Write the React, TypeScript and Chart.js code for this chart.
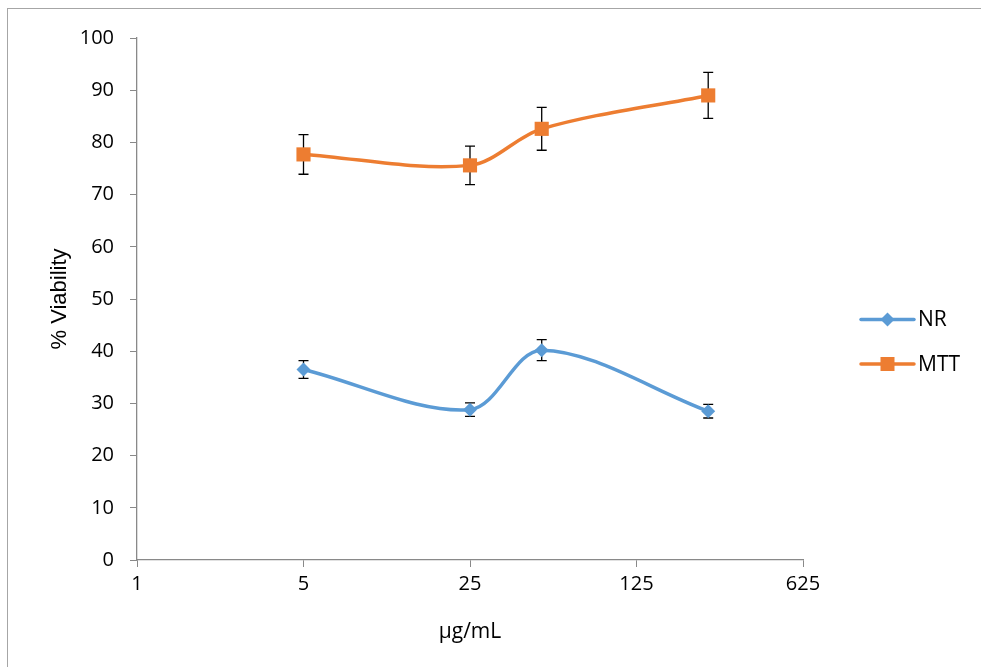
import React, { useEffect, useRef } from "react";
import { Chart, registerables } from "chart.js";

Chart.register(...registerables);

const concentrations = [5, 25, 50, 250];
const xTicks = [1, 5, 25, 125, 625];
const nrValues = [36.5, 28.8, 40.2, 28.5];
const nrErrors = [1.7, 1.3, 2.0, 1.3];
const mttValues = [77.7, 75.6, 82.6, 89.0];
const mttErrors = [3.8, 3.7, 4.1, 4.4];
const seriesNames = ["NR", "MTT"];
const xTitle = "µg/mL";
const yTitle = "% Viability";

const AXIS_COLOR = "#898989";
const NR_COLOR = "#5B9BD5";
const MTT_COLOR = "#ED7D31";
const TICK_FONT = "'Open Sans', 'Noto Sans', sans-serif";

const errorBarPlugin = {
  id: "errorBars",
  beforeDatasetsDraw(chart: any) {
    const ctx = chart.ctx;
    const xs = chart.scales.x;
    const ys = chart.scales.y;
    ctx.save();
    ctx.strokeStyle = "#000";
    ctx.lineWidth = 1.3;
    chart.data.datasets.forEach((ds: any) => {
      const errs: number[] = ds.errors || [];
      ds.data.forEach((p: any, i: number) => {
        const e = errs[i];
        if (e == null) return;
        const x = xs.getPixelForValue(p.x);
        const y1 = ys.getPixelForValue(p.y - e);
        const y2 = ys.getPixelForValue(p.y + e);
        ctx.beginPath();
        ctx.moveTo(x, y1);
        ctx.lineTo(x, y2);
        ctx.moveTo(x - 5, y1);
        ctx.lineTo(x + 5, y1);
        ctx.moveTo(x - 5, y2);
        ctx.lineTo(x + 5, y2);
        ctx.stroke();
      });
    });
    ctx.restore();
  },
};

const legendPlugin = {
  id: "customLegend",
  afterDraw(chart: any) {
    const ctx = chart.ctx;
    const rows = [319.5, 364];
    ctx.save();
    chart.data.datasets.forEach((ds: any, i: number) => {
      const y = rows[i];
      const x1 = 861;
      const x2 = 914;
      ctx.strokeStyle = ds.borderColor;
      ctx.lineWidth = ds.borderWidth;
      ctx.lineCap = "round";
      ctx.beginPath();
      ctx.moveTo(x1, y);
      ctx.lineTo(x2, y);
      ctx.stroke();
      ctx.fillStyle = ds.backgroundColor;
      const cx = (x1 + x2) / 2;
      ctx.beginPath();
      if (ds.pointStyle === "rect") {
        ctx.rect(cx - 7, y - 7, 14, 14);
      } else {
        ctx.moveTo(cx, y - 7);
        ctx.lineTo(cx + 7, y);
        ctx.lineTo(cx, y + 7);
        ctx.lineTo(cx - 7, y);
        ctx.closePath();
      }
      ctx.fill();
      ctx.fillStyle = "#000";
      ctx.font = `21px ${TICK_FONT}`;
      ctx.textBaseline = "middle";
      ctx.textAlign = "left";
      ctx.fillText(ds.label, 918, y + 1);
    });
    ctx.restore();
  },
};

export default function App() {
  const ref = useRef<HTMLCanvasElement | null>(null);

  useEffect(() => {
    if (!ref.current) return;
    const chart = new Chart(ref.current, {
      type: "line",
      data: {
        datasets: [
          {
            label: seriesNames[0],
            data: concentrations.map((c, i) => ({ x: c, y: nrValues[i] })),
            errors: nrErrors,
            borderColor: NR_COLOR,
            backgroundColor: NR_COLOR,
            borderWidth: 3.5,
            pointStyle: "rectRot",
            pointRadius: 7,
            pointBorderWidth: 0,
            tension: 0.33,
          } as any,
          {
            label: seriesNames[1],
            data: concentrations.map((c, i) => ({ x: c, y: mttValues[i] })),
            errors: mttErrors,
            borderColor: MTT_COLOR,
            backgroundColor: MTT_COLOR,
            borderWidth: 3.5,
            pointStyle: "rect",
            pointRadius: 10,
            pointBorderWidth: 0,
            tension: 0.33,
          } as any,
        ],
      },
      options: {
        animation: false,
        responsive: false,
        maintainAspectRatio: false,
        layout: { padding: { top: 38, right: 178, left: 0, bottom: 0 } },
        plugins: {
          legend: { display: false },
          tooltip: { enabled: false },
        },
        scales: {
          x: {
            type: "logarithmic",
            min: 1,
            max: 625,
            afterBuildTicks(scale: any) {
              scale.ticks = xTicks.map((v) => ({ value: v }));
            },
            afterFit(scale: any) {
              scale.height = 107;
            },
            grid: {
              drawOnChartArea: false,
              drawTicks: true,
              tickLength: 7,
              color: AXIS_COLOR,
            },
            border: { display: true, color: AXIS_COLOR, width: 1.3 },
            ticks: {
              autoSkip: false,
              maxRotation: 0,
              padding: 5,
              color: "#000",
              font: { family: TICK_FONT, size: 20 },
              callback: (v: any) => String(v),
            },
            title: {
              display: true,
              text: xTitle,
              color: "#000",
              font: { family: TICK_FONT, size: 21 },
              padding: { top: 0, bottom: 22 },
            },
          },
          y: {
            type: "linear",
            min: 0,
            max: 100,
            afterFit(scale: any) {
              scale.width = 137;
            },
            grid: {
              drawOnChartArea: false,
              drawTicks: true,
              tickLength: 7,
              color: AXIS_COLOR,
            },
            border: { display: true, color: AXIS_COLOR, width: 1.3 },
            ticks: {
              stepSize: 10,
              padding: 16,
              color: "#000",
              font: { family: TICK_FONT, size: 20 },
            },
            title: {
              display: true,
              text: yTitle,
              color: "#000",
              font: { family: "'Liberation Sans', Arial, sans-serif", size: 22 },
              padding: { top: 47, bottom: 0 },
            },
          },
        },
      },
      plugins: [errorBarPlugin, legendPlugin],
    });
    return () => chart.destroy();
  }, []);

  return (
    <div style={{ position: "fixed", left: 0, top: 0, width: 981, height: 667, background: "#fff" }}>
      <div
        style={{
          position: "absolute",
          left: 7,
          top: 8,
          width: 1000,
          height: 700,
          borderTop: "1.5px solid #a6a6a6",
          borderLeft: "1.5px solid #a6a6a6",
        }}
      />
      <canvas ref={ref} width={981} height={667} style={{ position: "absolute", left: 0, top: 0 }} />
    </div>
  );
}
